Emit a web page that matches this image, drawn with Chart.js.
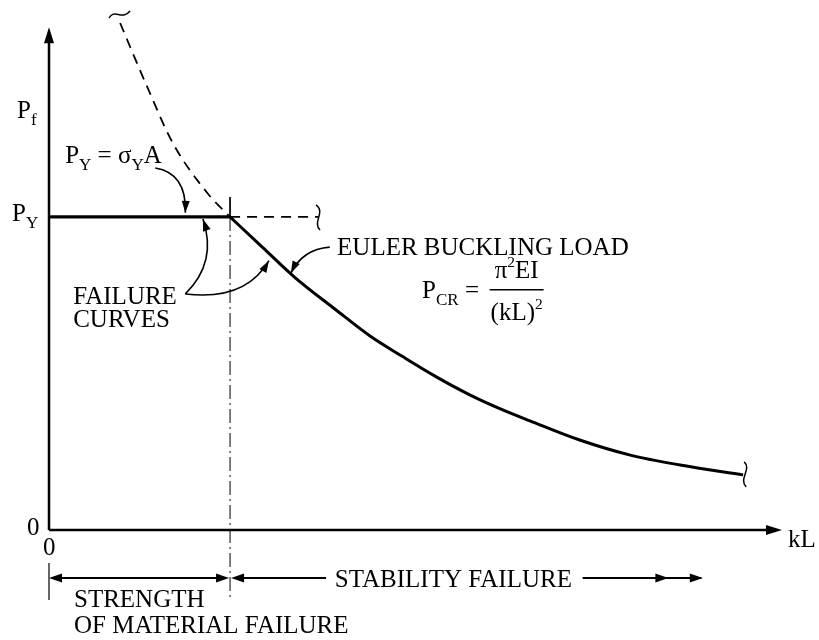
<!DOCTYPE html>
<html>
<head>
<meta charset="utf-8">
<script src="https://cdn.jsdelivr.net/npm/chart.js@4.4.1/dist/chart.umd.min.js"></script>
<style>
  body { margin: 0; background: #fff; }
  canvas { display: block; }
</style>
</head>
<body>
<canvas id="grafico" width="819" height="640"></canvas>
<script>
// valores (unidades arbitrarias: kL 0-100, P 0-100)
const pYield = 60.2;       // P_Y
const kLcrit = 24.7;       // kL onde Euler = P_Y
const kLyieldEnd = 36.7;   // fim da reta tracejada de P_Y

// curva de Euler (parte que governa)
const kLEuler = [24.7, 29.1, 33.6, 39.0, 43.8, 48.3, 52.9, 57.4, 61.9, 65.6, 72.4, 79.3, 86.1, 94.7];
const pEuler  = [60.2, 54.4, 48.5, 42.5, 37.3, 33.3, 29.4, 26.0, 23.1, 21.0, 17.3, 14.4, 12.5, 10.6];

// curva de Euler acima de P_Y (tracejada)
const kLEulerUp = [9.7, 13.4, 16.9, 21.6, 24.7];
const pEulerUp  = [97.5, 85.2, 74.4, 64.8, 60.2];

// reta vertical em kL critico
const pCritTop = 64.0;
const pCritBottom = -13.5;

const xTickLabels = ["0"];
const yTickLabels = ["0"];

function pts(xs, ys) {
    return xs.map((x, i) => ({ x: x, y: ys[i] }));
}

const FONT = "Liberation Serif, Times New Roman, serif";

// texto com subscrito / sobrescrito
function textoRico(ctx, x, y, partes, size) {
    let cx = x;
    partes.forEach(p => {
        const txt = p[0], tipo = p[1] || 0;
        let s = size, dy = 0;
        if (tipo === 1) { s = size * 0.68; dy = size * 0.28; }
        if (tipo === -1) { s = size * 0.62; dy = -size * 0.42; }
        ctx.font = s + "px " + FONT;
        ctx.fillText(txt, cx, y + dy);
        cx += ctx.measureText(txt).width;
    });
    return cx - x;
}

function larguraRica(ctx, partes, size) {
    let w = 0;
    partes.forEach(p => {
        const tipo = p[1] || 0;
        let s = size;
        if (tipo === 1) s = size * 0.68;
        if (tipo === -1) s = size * 0.62;
        ctx.font = s + "px " + FONT;
        w += ctx.measureText(p[0]).width;
    });
    return w;
}

function ponta(ctx, x, y, fx, fy, len, half) {
    const a = Math.atan2(y - fy, x - fx);
    ctx.beginPath();
    ctx.moveTo(x, y);
    ctx.lineTo(x - len * Math.cos(a) + half * Math.sin(a), y - len * Math.sin(a) - half * Math.cos(a));
    ctx.lineTo(x - len * Math.cos(a) - half * Math.sin(a), y - len * Math.sin(a) + half * Math.cos(a));
    ctx.closePath();
    ctx.fill();
}

const anotacoes = {
    id: "anotacoes",
    afterDatasetsDraw(chart) {
        const ctx = chart.ctx;
        const sx = chart.scales.x, sy = chart.scales.y;
        const X = v => sx.getPixelForValue(v);
        const Y = v => sy.getPixelForValue(v);
        const P = (a, b) => [X(a), Y(b)];

        ctx.save();
        ctx.fillStyle = "#000";
        ctx.strokeStyle = "#000";

        // eixos
        const o = P(0, 0);
        const yTop = Y(96.7);
        const xEnd = X(100);
        ctx.lineWidth = 2.5;
        ctx.beginPath();
        ctx.moveTo(o[0], o[1]); ctx.lineTo(o[0], yTop + 8);
        ctx.moveTo(o[0], o[1]); ctx.lineTo(xEnd - 8, o[1]);
        ctx.stroke();
        ponta(ctx, o[0], yTop, o[0], yTop + 20, 16, 5);
        ponta(ctx, xEnd, o[1], xEnd - 20, o[1], 16, 5);

        // setas curvas
        function seta(a, c, b) {
            const A = P(a[0], a[1]), C = P(c[0], c[1]), B = P(b[0], b[1]);
            ctx.lineWidth = 1.6;
            ctx.beginPath();
            ctx.moveTo(A[0], A[1]);
            ctx.quadraticCurveTo(C[0], C[1], B[0], B[1]);
            ctx.stroke();
            ponta(ctx, B[0], B[1], C[0], C[1], 12, 4);
        }
        seta([14.5, 69.6], [18.8, 68.6], [18.6, 61.0]);
        seta([18.6, 45.4], [23.0, 51.5], [21.0, 59.8]);
        seta([18.6, 45.4], [26.8, 44.0], [30.0, 51.8]);
        seta([38.3, 54.4], [34.6, 54.0], [33.0, 49.4]);

        // pequenos "cortes" nas pontas das curvas
        ctx.lineWidth = 1.5;
        const t = P(9.7, 97.5);
        ctx.beginPath();
        ctx.moveTo(t[0] - 11, t[1] - 5);
        ctx.bezierCurveTo(t[0] - 6, t[1] - 15, t[0] + 2, t[1] - 2, t[0] + 10, t[1] - 12);
        ctx.stroke();
        const r = P(kLyieldEnd, pYield);
        ctx.beginPath();
        ctx.moveTo(r[0] - 2, r[1] - 12);
        ctx.bezierCurveTo(r[0] + 8, r[1] - 5, r[0] - 6, r[1] + 5, r[0] + 2, r[1] + 13);
        ctx.stroke();
        const e = P(kLEuler[kLEuler.length - 1], pEuler[pEuler.length - 1]);
        ctx.beginPath();
        ctx.moveTo(e[0] + 1, e[1] - 13);
        ctx.bezierCurveTo(e[0] + 9, e[1] - 6, e[0] - 5, e[1] + 4, e[0] + 3, e[1] + 12);
        ctx.stroke();

        // cota inferior
        const yc = o[1] + 48;
        const xc = X(kLcrit);
        ctx.lineWidth = 1.2;
        ctx.beginPath();
        ctx.moveTo(o[0], o[1] + 33); ctx.lineTo(o[0], o[1] + 70);
        ctx.stroke();
        ctx.lineWidth = 1.8;
        ctx.beginPath();
        ctx.moveTo(o[0] + 8, yc); ctx.lineTo(xc - 8, yc);
        ctx.moveTo(xc + 8, yc); ctx.lineTo(X(37.8), yc);
        ctx.moveTo(X(72.8), yc); ctx.lineTo(X(89.0), yc);
        ctx.stroke();
        ponta(ctx, o[0], yc, o[0] + 10, yc, 13, 4.5);
        ponta(ctx, xc - 1, yc, xc - 11, yc, 13, 4.5);
        ponta(ctx, xc + 1, yc, xc + 11, yc, 13, 4.5);
        ponta(ctx, X(84.5), yc, X(80), yc, 13, 4.5);
        ponta(ctx, X(89.2), yc, X(85), yc, 13, 4.5);

        // textos
        ctx.textBaseline = "alphabetic";
        const S = 25;
        textoRico(ctx, 17, Y(79.2), [["P"], ["f", 1]], S);
        textoRico(ctx, 12, Y(59.4), [["P"], ["Y", 1]], S);
        textoRico(ctx, X(2.2), Y(70.6), [["P"], ["Y", 1], [" = σ"], ["Y", 1], ["A"]], S);

        ctx.font = S + "px " + FONT;
        ctx.fillText("FAILURE", X(3.3), Y(43.5));
        ctx.fillText("CURVES", X(3.3), Y(39.0));
        ctx.fillText("EULER BUCKLING LOAD", X(39.3), Y(52.9));

        textoRico(ctx, X(50.9), Y(44.6), [["P"], ["CR", 1], [" ="]], S);
        const num = [["π"], ["2", -1], ["EI"]];
        const den = [["(kL)"], ["2", -1]];
        const cxF = X(63.8);
        const wn = larguraRica(ctx, num, S), wd = larguraRica(ctx, den, S);
        textoRico(ctx, cxF - wn / 2, Y(48.5), num, S);
        textoRico(ctx, cxF - wd / 2, Y(40.4), den, S);
        ctx.lineWidth = 1.5;
        ctx.beginPath();
        ctx.moveTo(cxF - 27, Y(46.2)); ctx.lineTo(cxF + 27, Y(46.2));
        ctx.stroke();

        ctx.font = S + "px " + FONT;
        ctx.fillText(yTickLabels[0], o[0] - 22, o[1] + 5);
        ctx.fillText(xTickLabels[0], o[0] - 6, o[1] + 25);
        ctx.fillText("kL", xEnd + 6, o[1] + 17);
        ctx.fillText("STABILITY FAILURE", X(39.0), yc + 9);
        ctx.fillText("STRENGTH", o[0] + 25, o[1] + 77);
        ctx.fillText("OF MATERIAL FAILURE", o[0] + 25, o[1] + 103);

        ctx.restore();
    }
};

new Chart(document.getElementById("grafico").getContext("2d"), {
    type: "scatter",
    data: {
        datasets: [
            {
                data: pts(kLEuler, pEuler),
                borderColor: "#000",
                borderWidth: 3,
                cubicInterpolationMode: "monotone"
            },
            {
                data: pts(kLEulerUp, pEulerUp),
                borderColor: "#000",
                borderWidth: 1.8,
                borderDash: [10, 7],
                cubicInterpolationMode: "monotone",
                clip: false
            },
            {
                data: pts([0, kLcrit], [pYield, pYield]),
                borderColor: "#000",
                borderWidth: 3.2
            },
            {
                data: pts([kLcrit, kLyieldEnd], [pYield, pYield]),
                borderColor: "#000",
                borderWidth: 1.8,
                borderDash: [10, 7]
            },
            {
                data: pts([kLcrit, kLcrit], [pCritTop, pYield]),
                borderColor: "#000",
                borderWidth: 1
            },
            {
                data: pts([kLcrit, kLcrit], [pYield, pCritBottom]),
                borderColor: "#000",
                borderWidth: 1,
                borderDash: [14, 4, 2, 4],
                clip: false
            }
        ]
    },
    options: {
        responsive: false,
        animation: false,
        showLine: true,
        elements: { point: { radius: 0 } },
        layout: { padding: { left: 49, right: 37, top: 10, bottom: 110 } },
        plugins: { legend: { display: false }, tooltip: { enabled: false } },
        scales: {
            x: { type: "linear", min: 0, max: 100, display: false },
            y: { type: "linear", min: 0, max: 100, display: false }
        }
    },
    plugins: [anotacoes]
});
</script>
</body>
</html>
